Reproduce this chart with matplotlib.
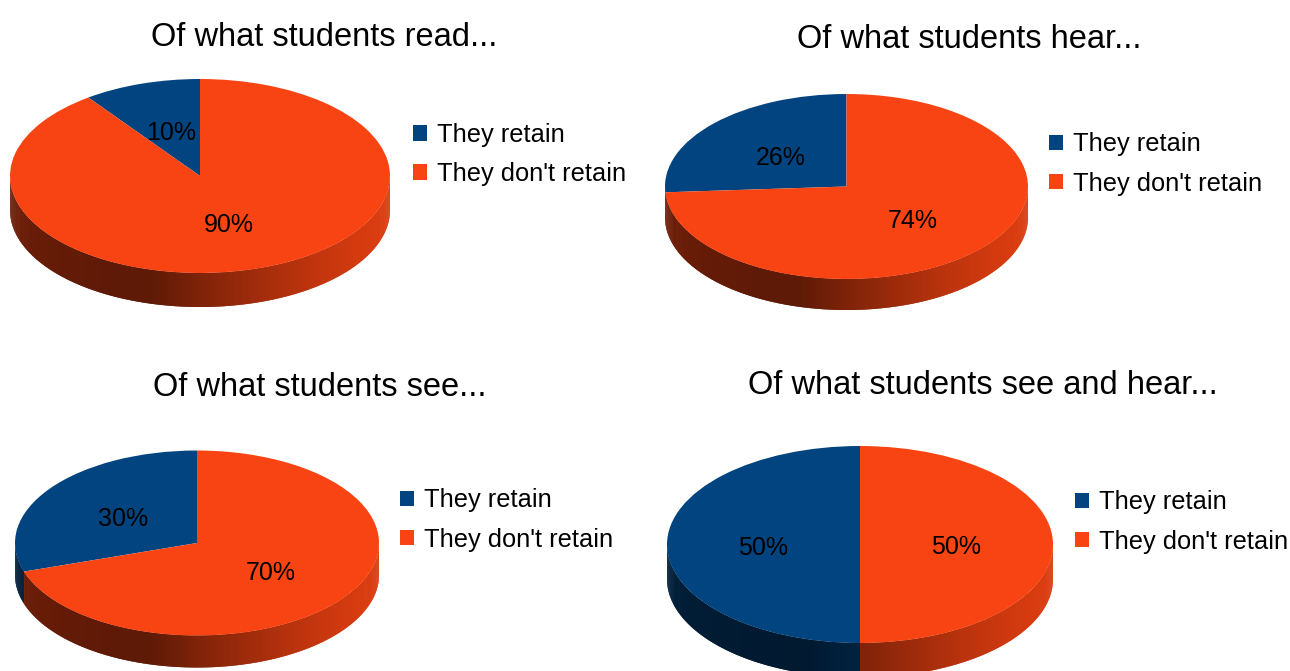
import numpy as np
import matplotlib
matplotlib.use('Agg')
import matplotlib.pyplot as plt
from matplotlib.collections import PolyCollection
from matplotlib.colors import to_rgb
from matplotlib.transforms import offset_copy

plt.rcParams['font.family'] = ['Liberation Sans', 'DejaVu Sans']

titles = ["Of what students read...", "Of what students hear...",
          "Of what students see...", "Of what students see and hear..."]
categories = ["They retain", "They don't retain"]
retain = [10, 26, 30, 50]
dont_retain = [90, 74, 70, 50]
colors = ['#02447F', '#F84412']

W, H = 1290, 671
fig = plt.figure(figsize=(W / 100, H / 100), dpi=100)

# pixel layout: centre x/y, radius x/y, wall depth, title x/y, legend x/y
layouts = [
    (200, 176, 190, 97, 34, 324, 37, 413, 154.5),
    (846.5, 186.5, 181.5, 92.5, 31, 969, 39, 1049, 164),
    (197, 543, 182, 92.5, 32, 320, 387, 400, 520),
    (860, 544.5, 193, 98.5, 34.5, 983, 385, 1075, 522),
]


def shade(theta_deg):
    t = np.radians(theta_deg)
    f = 0.38 + 0.5 * max(0.0, np.cos(t - np.radians(345)))
    f += 0.07 * max(0.0, np.cos(t - np.pi)) ** 4
    return min(f, 1.0)


for i, (cx, cy, rx, ry, depth, tx, ty, lx, ly) in enumerate(layouts):
    left_px = cx - 1.1 * rx
    right_px = cx + 1.1 * rx
    top_px = cy - 1.15 * ry
    bot_px = cy + ry + depth + 10
    ax = fig.add_axes([left_px / W, (H - bot_px) / H,
                       (right_px - left_px) / W, (bot_px - top_px) / H])
    wedges, texts, autotexts = ax.pie(
        [retain[i], dont_retain[i]], colors=colors, startangle=90,
        counterclock=True, autopct='%1.0f%%', pctdistance=0.5,
        wedgeprops=dict(linewidth=0, zorder=3),
        textprops=dict(fontsize=18, color='black'))
    for t in autotexts:
        t.set_zorder(5)
        t.set_transform(offset_copy(ax.transData, fig=fig, x=0, y=-3, units='dots'))
    ax.set_aspect('auto')
    ax.set_xlim(-1.1, 1.1)
    ax.set_ylim(-(ry + depth + 10) / ry, 1.15)
    ax.axis('off')

    dd = depth / ry
    step = 0.5
    verts, cols = [], []
    for w, c in zip(wedges, colors):
        base = np.array(to_rgb(c))
        t1, t2 = w.theta1, w.theta2
        for k in (-1, 0, 1):
            lo = max(t1, 180 + 360 * k)
            hi = min(t2, 360 + 360 * k)
            if hi <= lo:
                continue
            edges = np.linspace(lo, hi, int(np.ceil((hi - lo) / step)) + 1)
            for a, b in zip(edges[:-1], edges[1:]):
                b2 = min(b + step, hi)
                arc = np.radians(np.linspace(a, b2, 4))
                top = [(np.cos(q), np.sin(q)) for q in arc]
                bot = [(np.cos(q), np.sin(q) - dd) for q in arc[::-1]]
                verts.append(top + bot)
                cols.append(tuple(base * shade((a + b) / 2 % 360)))
    pc = PolyCollection(verts, facecolors=cols, edgecolors='none',
                        linewidths=0, zorder=2)
    ax.add_collection(pc)

    ax.legend(wedges, categories, loc='center left',
              bbox_to_anchor=(lx / W, 1 - ly / H), bbox_transform=fig.transFigure,
              frameon=False, fontsize=18.3, handlelength=0.56, handleheight=0.56,
              handletextpad=0.4, labelspacing=0.6, borderpad=0, borderaxespad=0)

    fig.text(tx / W, 1 - ty / H, titles[i], ha='center', va='center',
             fontsize=23.5)

fig.savefig('out.png', dpi=100)
